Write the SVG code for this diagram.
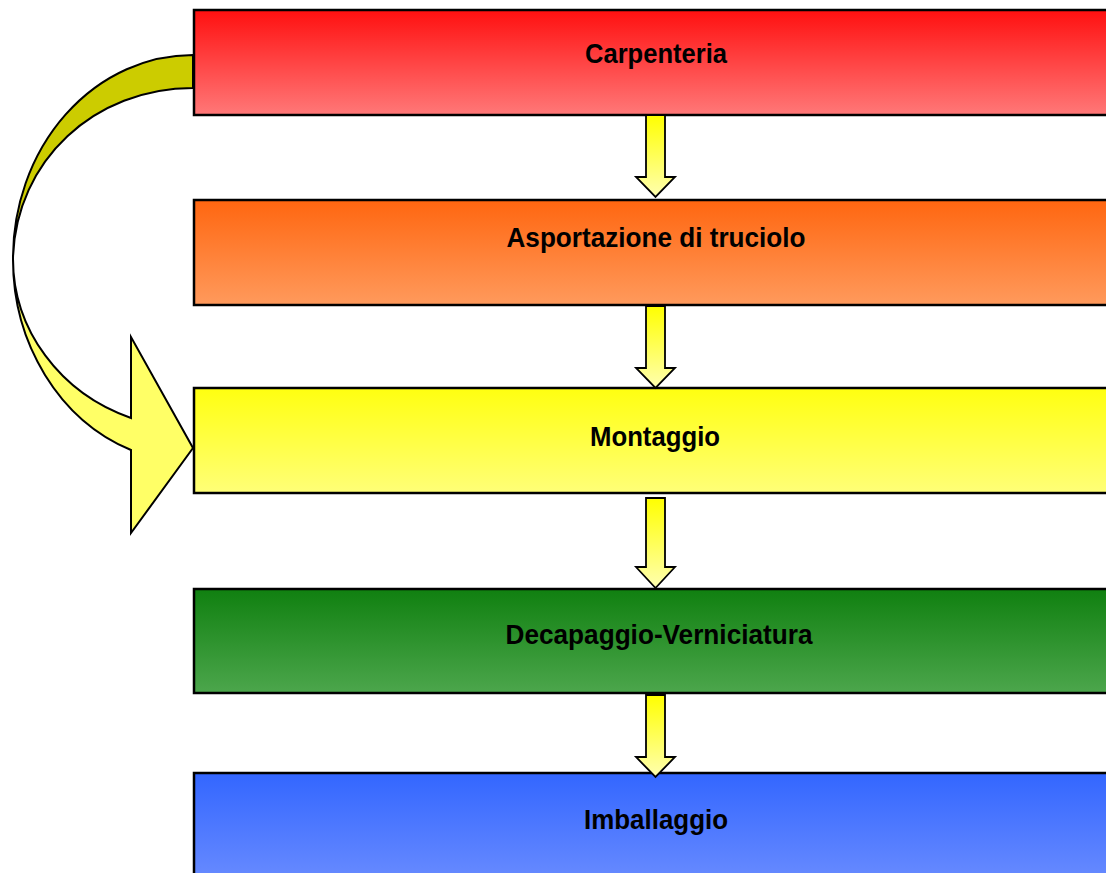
<svg xmlns="http://www.w3.org/2000/svg" width="1106" height="873" viewBox="0 0 1106 873">
<style>
.box{stroke:#000;stroke-width:2.5}
.lbl{font-family:"Liberation Sans",Arial,sans-serif;font-weight:bold;font-size:28px;fill:#000;text-anchor:middle}
.arr{fill:url(#gy);stroke:#000;stroke-width:1.8;stroke-linejoin:miter}
.curv{stroke:#000;stroke-width:2;stroke-linejoin:miter}
</style>
<defs>
<linearGradient id="g1" x1="0" y1="0" x2="0" y2="1"><stop offset="0" stop-color="#FF1010"/><stop offset="1" stop-color="#FF7878"/></linearGradient>
<linearGradient id="g2" x1="0" y1="0" x2="0" y2="1"><stop offset="0" stop-color="#FF6610"/><stop offset="1" stop-color="#FF9A5C"/></linearGradient>
<linearGradient id="g3" x1="0" y1="0" x2="0" y2="1"><stop offset="0" stop-color="#FFFF10"/><stop offset="1" stop-color="#FFFF78"/></linearGradient>
<linearGradient id="g4" x1="0" y1="0" x2="0" y2="1"><stop offset="0" stop-color="#108010"/><stop offset="1" stop-color="#4CA64C"/></linearGradient>
<linearGradient id="g5" x1="0" y1="0" x2="0" y2="1"><stop offset="0" stop-color="#3366FF"/><stop offset="1" stop-color="#6E8FFF"/></linearGradient>
<linearGradient id="gy" x1="0" y1="0" x2="0" y2="1"><stop offset="0" stop-color="#FFFF00"/><stop offset="1" stop-color="#FFFFB0"/></linearGradient>
</defs>
<rect width="1106" height="873" fill="#fff"/>
<g id="n1"><rect class="box" x="194" y="10" width="930" height="105" fill="url(#g1)"/><text class="lbl" x="656" y="63" textLength="142" lengthAdjust="spacingAndGlyphs">Carpenteria</text></g>
<g id="n2"><rect class="box" x="194" y="200" width="930" height="105" fill="url(#g2)"/><text class="lbl" x="656" y="247" textLength="299" lengthAdjust="spacingAndGlyphs">Asportazione di truciolo</text></g>
<g id="n3"><rect class="box" x="194" y="388" width="930" height="105" fill="url(#g3)"/><text class="lbl" x="655" y="446" textLength="130" lengthAdjust="spacingAndGlyphs">Montaggio</text></g>
<g id="n4"><rect class="box" x="194" y="589" width="930" height="104" fill="url(#g4)"/><text class="lbl" x="659" y="644" textLength="307" lengthAdjust="spacingAndGlyphs">Decapaggio-Verniciatura</text></g>
<g id="n5"><rect class="box" x="194" y="773" width="930" height="120" fill="url(#g5)"/><text class="lbl" x="656" y="829" textLength="144" lengthAdjust="spacingAndGlyphs">Imballaggio</text></g>
<g id="connectors">
<path class="curv" fill="#CCCC00" d="M193,55 A180,203 0 0 0 13,258 C16,160 95,88 193,88 Z"/>
<path class="curv" fill="#FFFF66" d="M13,258 A181,203 0 0 0 131,450 L131,533 L193,448 L131,337 L131,418 A181,170 0 0 1 13,258 Z"/>
<path class="arr" d="M646,115 L665,115 L665,177 L675,177 L655.5,197 L636,177 L646,177 Z"/>
<path class="arr" d="M646,306 L665,306 L665,368 L675,368 L655.5,388 L636,368 L646,368 Z"/>
<path class="arr" d="M646,498 L665,498 L665,567 L675,567 L655.5,588 L636,567 L646,567 Z"/>
<path class="arr" d="M646,695 L665,695 L665,757 L675,757 L655.5,777 L636,757 L646,757 Z"/>
</g>
</svg>
